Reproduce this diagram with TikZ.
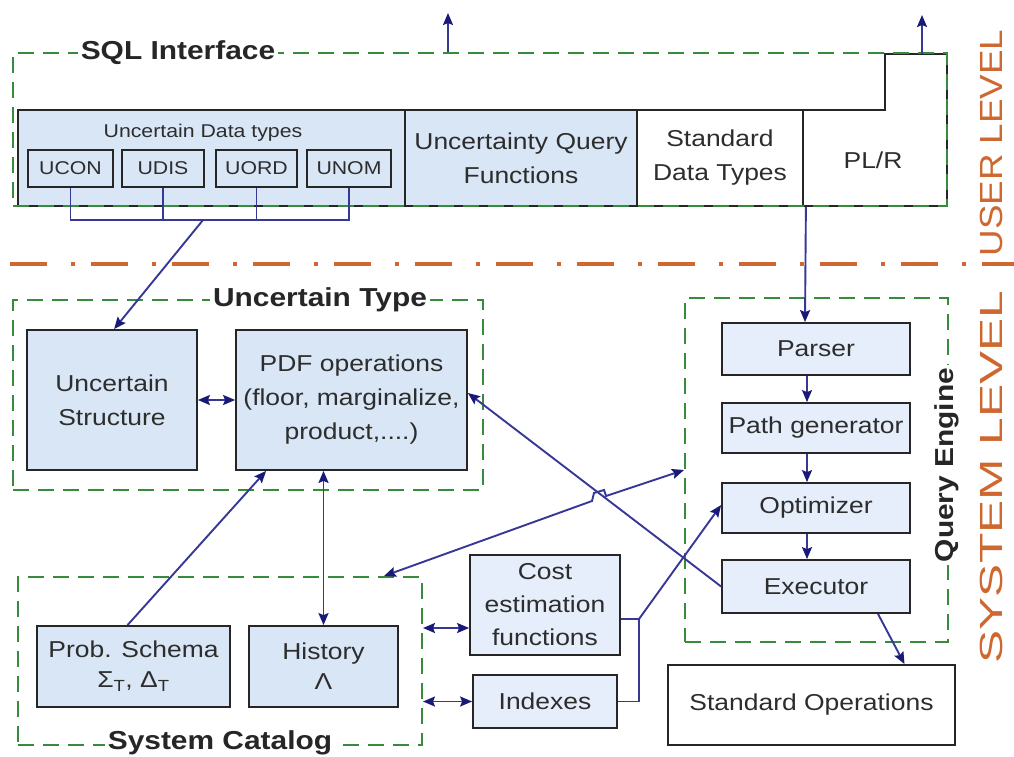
\documentclass[tikz,border=0pt]{standalone}
\usepackage{graphicx}
\usepackage{fontspec}
\setmainfont{Liberation Sans}[FakeStretch=1.15]
\usetikzlibrary{arrows.meta,calc}
\definecolor{bfill}{RGB}{216,230,246}
\definecolor{bfill2}{RGB}{229,238,250}
\definecolor{grn}{RGB}{55,140,60}
\definecolor{connc}{RGB}{55,55,150}
\definecolor{tipc}{RGB}{25,25,120}
\definecolor{orng}{RGB}{206,104,48}
\definecolor{txt}{RGB}{45,45,45}
\begin{document}
\begin{tikzpicture}[x=1pt,y=-1pt,
 box/.style={draw=black!85, line width=1.8pt, fill=bfill, inner sep=0pt, align=center, text=txt, font=\fontsize{23}{34}\selectfont},
 qbox/.style={box, fill=bfill2},
 wbox/.style={box, fill=white},
 smallbox/.style={box, line width=1.5pt, font=\fontsize{18.5}{22}\selectfont},
 grp/.style={draw=grn, line width=2pt, dash pattern=on 16pt off 9pt, inner sep=0pt},
 grptitle/.style={fill=white, inner sep=3pt, font=\bfseries\fontsize{26}{30}\selectfont, text=black!85},
 conn/.style={draw=connc, line width=1.9pt},
 arr/.style={conn, -{Stealth[length=12pt,width=10pt,inset=2pt,color=tipc]}},
 darr/.style={conn, {Stealth[length=12pt,width=10pt,inset=2pt,color=tipc]}-{Stealth[length=12pt,width=10pt,inset=2pt,color=tipc]}},
 lvl/.style={text=orng, font=\fontsize{32}{32}\selectfont, rotate=90, inner sep=0pt},
]
\useasboundingbox (0,0) rectangle (1014,756);

% ---------- user level row ----------
\node[box, minimum width=387pt, minimum height=96pt] (udt) at (211.5,158) {};
\node[text=txt, font=\fontsize{18.5}{22}\selectfont] (udtl) at (203,133) {Uncertain Data types};
\node[smallbox, minimum width=85pt, minimum height=37pt] (ucon) at (70.5,168.5) {UCON};
\node[smallbox, minimum width=82pt, minimum height=37pt] (udis) at (163,168.5) {UDIS};
\node[smallbox, minimum width=81pt, minimum height=37pt] (uord) at (256.5,168.5) {UORD};
\node[smallbox, minimum width=84pt, minimum height=37pt] (unom) at (349,168.5) {UNOM};
\node[box, minimum width=232pt, minimum height=96pt] (uqf) at (521,158) {Uncertainty Query\\Functions};
\node[wbox, minimum width=166pt, minimum height=96pt] (sdt) at (720,158) {Standard\\Data Types};
\draw[line width=1.8pt, draw=black!85, fill=white] (803,110) -- (885,110) -- (885,54) -- (947,54) -- (947,206) -- (803,206) -- cycle;
\node[text=txt, font=\fontsize{23}{34}\selectfont] (plr) at (873,160) {PL/R};

\node[grp, minimum width=934pt, minimum height=153pt] (sql) at (480,129.5) {};
\node[grptitle] (sqlt) at (178,53) {SQL Interface};

\coordinate (up1) at (448,13);
\coordinate (up2) at (922,15);
\draw[arr] (sql.north -| up1) -- (up1);
\draw[arr] (922,54) -- (up2);

% bus under uncertain data types
\coordinate (busL) at (70.5,220);
\coordinate (busR) at (349,220);
\coordinate (busM) at (203,220);
\draw[conn] (ucon.south) -- (busL) -- (busR) -- (unom.south);
\draw[conn] (udis.south) -- (udis.south |- busL);
\draw[conn] (uord.south) -- (uord.south |- busL);

% level separator
\draw[orng, line width=4pt, dash pattern=on 37pt off 24pt on 4pt off 16pt] (10,264) -- (1014,264);
\node[lvl] (ul) at (991,143) {USER LEVEL};
\node[lvl] (sl) at (991,477) {\scalebox{1.35}[1]{SYSTEM LEVEL}};

% ---------- uncertain type ----------
\node[grp, minimum width=470pt, minimum height=190pt] (ut) at (248,395) {};
\node[grptitle] (utt) at (320,300) {Uncertain Type};
\node[box, minimum width=170pt, minimum height=140pt] (ustruct) at (112,400) {Uncertain\\Structure};
\node[box, minimum width=231pt, minimum height=140pt] (pdf) at (351.5,400) {PDF operations\\(floor, marginalize,\\product,....)};
\draw[darr] (ustruct.east) -- (pdf.west);
\draw[arr] (busM) -- ($(ustruct.north west)+(88,0)$);

% ---------- query engine ----------
\node[grp, minimum width=263pt, minimum height=344pt] (qe) at (816.5,470) {};
\node[grptitle, rotate=90] (qet) at (947,465) {Query Engine};
\node[qbox, minimum width=188pt, minimum height=52pt] (parser) at (816,349) {Parser};
\node[qbox, minimum width=188pt, minimum height=50pt] (pathgen) at (816,428) {Path generator};
\node[qbox, minimum width=188pt, minimum height=50pt] (opt) at (816,508) {Optimizer};
\node[qbox, minimum width=188pt, minimum height=53pt] (exec) at (816,586.5) {Executor};
\draw[arr] ($(sdt.south east)+(2,0)$) -- ($(parser.north)+(-11,0)$);
\draw[arr] ($(parser.south)+(-9,0)$) -- ($(pathgen.north)+(-9,0)$);
\draw[arr] ($(pathgen.south)+(-9,0)$) -- ($(opt.north)+(-9,0)$);
\draw[arr] ($(opt.south)+(-9,0)$) -- ($(exec.north)+(-9,0)$);

% ---------- system catalog ----------
\node[grp, minimum width=404pt, minimum height=168pt] (cat) at (220,661) {};
\node[grptitle] (catt) at (220,743) {System Catalog};
\node[box, minimum width=193pt, minimum height=81pt] (prob) at (133.5,666.5) {Prob. Schema\\[-4pt]Σ\textsubscript{T}, Δ\textsubscript{T}};
\node[box, minimum width=149pt, minimum height=81pt] (hist) at (323.5,666.5) {History\\[-4pt]Λ};

\node[qbox, minimum width=150pt, minimum height=100pt, font=\fontsize{23}{33}\selectfont] (cost) at (545,605) {Cost\\estimation\\functions};
\node[qbox, minimum width=144pt, minimum height=53pt] (idx) at (545,701.5) {Indexes};
\node[wbox, minimum width=287pt, minimum height=80pt] (stdops) at (811.5,705) {Standard Operations};

% ---------- connectors ----------
\draw[arr] ($(prob.north)+(-6,0)$) -- ($(pdf.south west)+(31,0)$);
\draw[darr] (hist.north) -- (hist.north |- pdf.south);
\draw[arr] (exec.west) -- ($(pdf.east)+(0,-7)$);
\draw[darr] ($(cat.north east)+(-39,0)$) -- (592,501) -- (594,493) -- (604,490) -- (606,496) -- (qe.west);
\coordinate (jn) at (639,619);
\draw[arr] ($(cost.east)+(0,14)$) -- (jn) -- ($(opt.west)+(0,-3)$);
\draw[conn] (idx.east) -- (idx.east -| jn) -- (jn);
\draw[arr] ($(exec.south)+(62,0)$) -- ($(stdops.north)+(93,0)$);
\coordinate (c1) at ($(cost.west)+(0,23)$);
\draw[darr] (c1 -| cat.east) -- (c1);
\draw[darr] (idx.west -| cat.east) -- (idx.west);
\end{tikzpicture}
\end{document}
